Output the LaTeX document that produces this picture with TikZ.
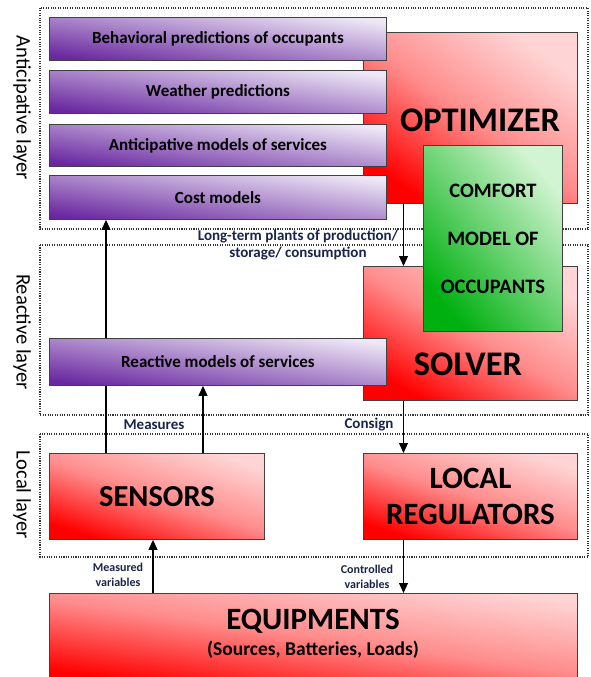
\documentclass[tikz,border=0pt]{standalone}
\usepackage{fontspec}
\setmainfont{Carlito}
\usetikzlibrary{arrows.meta}
\definecolor{redlo}{HTML}{FF0000}
\definecolor{redmid}{HTML}{FF8C8C}
\definecolor{redhi}{HTML}{FFD4D4}
\definecolor{purlo}{HTML}{6A28A0}
\definecolor{purhi}{HTML}{EEE8F6}
\definecolor{grnlo}{HTML}{00B010}
\definecolor{grnhi}{HTML}{D2F4D2}
\definecolor{lblc}{HTML}{1A2448}
\definecolor{edge}{HTML}{404040}
\tikzset{
  layerbox/.style={draw=black!80, line width=1.5pt, dash pattern=on 1.1pt off 1.3pt},
  redbox/.style={draw=edge, line width=0.9pt, inner sep=0pt, top color=redhi, bottom color=redlo, middle color=redmid, shading angle=-20, anchor=north west},
  purbox/.style={draw=edge, line width=0.9pt, inner sep=0pt, top color=purhi, bottom color=purlo, shading angle=-8, anchor=north west,
    font=\bfseries\fontsize{17}{20}\selectfont},
  grnbox/.style={draw=edge, line width=0.9pt, inner sep=0pt, top color=grnhi, bottom color=grnlo, shading angle=-50, anchor=north west},
  bigtxt/.style={font=\bfseries\fontsize{34.5}{38}\selectfont, inner sep=0pt},
  arr/.style={line width=1.1pt, -{Triangle[width=9pt,length=10pt]}},
  lbl/.style={text=lblc, font=\bfseries\fontsize{15}{17}\selectfont, inner sep=0pt, align=center},
  smlbl/.style={text=lblc, font=\bfseries\fontsize{12}{15}\selectfont, inner sep=0pt, align=center},
  layertxt/.style={font=\fontsize{20.6}{24}\selectfont, rotate=-90, inner sep=0pt}
}
\begin{document}
\begin{tikzpicture}[x=1pt,y=-1pt]
\useasboundingbox[fill=white] (0,0) rectangle (590,677);
% layers
\draw[layerbox] (40,8) rectangle (588,229);
\draw[layerbox] (40,245) rectangle (588,415);
\draw[layerbox] (40,434) rectangle (588,557);
\node[layertxt] (antl) at (22,108) {Anticipative layer};
\node[layertxt] (reacl) at (22,332) {Reactive layer};
\node[layertxt] (locl) at (22,495) {Local layer};
% boxes
\node[redbox, shading angle=-35, minimum width=214pt, minimum height=171pt] (opt) at (363,32) {};
\node[bigtxt] (opttxt) at (480,120) {OPTIMIZER};
\node[redbox, shading angle=-30, minimum width=214pt, minimum height=134pt] (solv) at (363,266) {};
\node[bigtxt] (solvtxt) at (468,364) {SOLVER};
\node[redbox, shading angle=-18, minimum width=215pt, minimum height=86pt, font=\bfseries\fontsize{30.5}{36}\selectfont] (sens) at (49,453) {SENSORS};
\node[redbox, shading angle=-18, minimum width=214pt, minimum height=86pt, font=\bfseries\fontsize{31}{36}\selectfont, align=center] (locreg) at (363,453) {LOCAL\\REGULATORS};
\node[redbox, shading angle=-8, minimum width=528pt, minimum height=86pt] (equip) at (49,593) {};
\node[bigtxt, font=\bfseries\fontsize{31}{36}\selectfont] (equiptxt) at (313,621) {EQUIPMENTS};
\node[inner sep=0pt, font=\bfseries\fontsize{19.5}{22}\selectfont] (equipsub) at (313,650) {(Sources, Batteries, Loads)};
% column positions of connectors
\coordinate (xa) at (106,0);
\coordinate (xb) at (203,0);
\coordinate (xc) at (403.5,0);
\coordinate (xd) at (153,0);
\node[purbox, minimum width=337pt, minimum height=43pt] (beh) at (49,17) {Behavioral predictions of occupants};
\node[purbox, minimum width=337pt, minimum height=43pt] (wea) at (49,70) {Weather predictions};
\node[purbox, minimum width=337pt, minimum height=42pt] (ant) at (49,124) {Anticipative models of services};
\node[purbox, minimum width=337pt, minimum height=44pt] (cost) at (49,175) {Cost models};
\draw[arr] (sens.north -| xa) -- (cost.south -| xa);
\node[purbox, minimum width=337pt, minimum height=47pt] (reac) at (49,338) {Reactive models of services};
\node[grnbox, minimum width=139pt, minimum height=186pt, align=center, font=\bfseries\fontsize{20.5}{48}\selectfont] (comf) at (423,145) {COMFORT\\MODEL OF\\OCCUPANTS};
% arrows
\draw[arr] (sens.north -| xb) -- (reac.south -| xb);
\draw[arr] (opt.south -| xc) -- (solv.north -| xc);
\draw[arr] (solv.south -| xc) -- (locreg.north -| xc);
\draw[arr] (equip.north -| xd) -- (sens.south -| xd);
\draw[arr] (locreg.south -| xc) -- (equip.north -| xc);
% labels
\node[lbl] (ltp) at (298,245) {Long-term plants of production/\\storage/ consumption};
\node[lbl] (meas) at (154,425) {Measures};
\node[lbl] (cons) at (369,425) {Consign};
\node[smlbl] (mvar) at (118,575) {Measured\\variables};
\node[smlbl] (cvar) at (367,577) {Controlled\\variables};
\end{tikzpicture}
\end{document}
